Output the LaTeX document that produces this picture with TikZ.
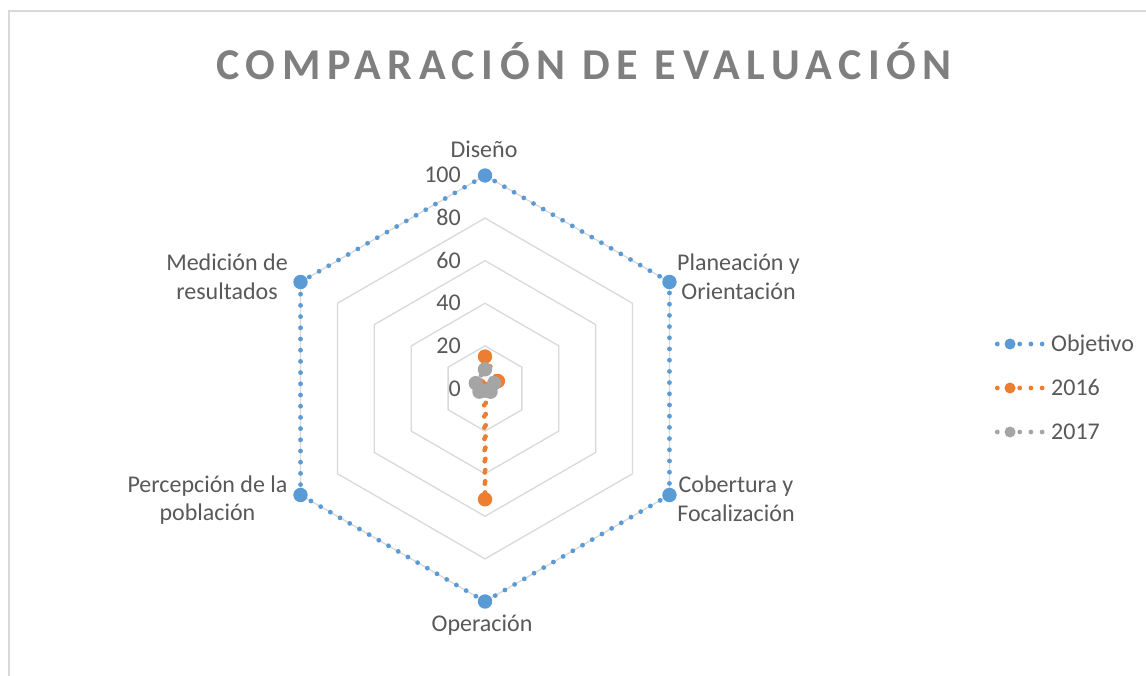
\documentclass[tikz,border=0pt]{standalone}
\usepackage{fontspec}
\setmainfont{Carlito}
\newfontfamily\titlefont[LetterSpace=15.2]{Carlito}
\definecolor{ringgray}{HTML}{D9D9D9}
\definecolor{txtgray}{HTML}{595959}
\definecolor{titlegray}{HTML}{7F7F7F}
\definecolor{cblue}{HTML}{5B9BD5}
\definecolor{corange}{HTML}{ED7D31}
\definecolor{cgray}{HTML}{A5A5A5}
\tikzset{
  ring/.style={draw=ringgray, line width=1.3pt, line join=miter},
  dotline/.style={line width=4.8pt, line cap=round, dash pattern=on 0pt off 11.2pt},
  lbl/.style={text=txtgray, font=\fontsize{24}{28.5}\selectfont, inner sep=0pt, align=center},
  axlbl/.style={text=txtgray, font=\fontsize{24}{28.5}\selectfont, inner sep=0pt, anchor=base east},
  leglbl/.style={text=txtgray, font=\fontsize{24}{28.5}\selectfont, inner sep=0pt, anchor=base west},
}
\begin{document}
\begin{tikzpicture}[x=1pt,y=-1pt]
\useasboundingbox (0,0) rectangle (1146,676);
\fill[white] (0,0) rectangle (1146,676);
\draw[ringgray, line width=1.2pt] (9,676) -- (9,11) -- (1146,11);
% title
\node[text=titlegray, font=\titlefont\bfseries\fontsize{44}{50}\selectfont, inner sep=0pt] (title) at (584,61) {COMPARACIÓN DE EVALUACIÓN};
% rings
\begin{scope}[shift={(485,388.5)}]
\foreach \v in {20,40,60,80,100}{
  \draw[ring] (0,{-2.13*\v}) -- ({2.13*\v*sin(60)},{-2.13*\v*cos(60)}) -- ({2.13*\v*sin(120)},{-2.13*\v*cos(120)})
   -- (0,{2.13*\v}) -- ({2.13*\v*sin(240)},{-2.13*\v*cos(240)}) -- ({2.13*\v*sin(300)},{-2.13*\v*cos(300)}) -- cycle;
}
% series coordinates
\foreach \k/\v in {0/100,1/100,2/100,3/100,4/100,5/100}
  \coordinate (obj\k) at ({2.13*\v*sin(60*\k)},{-2.13*\v*cos(60*\k)});
\foreach \k/\v in {0/15,1/7,2/0.5,3/52,4/0.5,5/3}
  \coordinate (a\k) at ({2.13*\v*sin(60*\k)},{-2.13*\v*cos(60*\k)});
\foreach \k/\v in {0/9,1/5,2/3,3/1,4/3,5/5}
  \coordinate (b\k) at ({2.13*\v*sin(60*\k)},{-2.13*\v*cos(60*\k)});
\end{scope}
% Objetivo
\draw[dotline, cblue] (obj0) -- (obj1) -- (obj2) -- (obj3) -- (obj4) -- (obj5) -- cycle;
\foreach \k in {0,...,5} \fill[cblue] (obj\k) circle (7.2pt);
% 2016
\draw[dotline, corange] (a0) -- (a1) -- (a2) -- (a3) -- (a4) -- (a5) -- cycle;
\foreach \k in {0,...,5} \fill[corange] (a\k) circle (7.2pt);
% 2017
\draw[dotline, cgray] (b0) -- (b1) -- (b2) -- (b3) -- (b4) -- (b5) -- cycle;
\foreach \k in {0,...,5} \fill[cgray] (b\k) circle (7.2pt);
% axis labels
\foreach \v in {0,20,40,60,80,100}
  \node[axlbl] (ax\v) at (461,{388.5-2.13*\v+7.5}) {\v};
% category labels
\node[lbl, anchor=base] (cat0) at (484,157.7) {Diseño};
\node[lbl] (cat1) at (738.5,277) {Planeación y\\Orientación};
\node[lbl] (cat2) at (736,499) {Cobertura y\\Focalización};
\node[lbl, anchor=base] (cat3) at (482,631) {Operación};
\node[lbl] (cat4) at (207.5,500.2) {Percepción de la\\población};
\node[lbl] (cat5) at (227,277) {Medición de\\resultados};
% legend
\coordinate (l1a) at (997.3,344); \coordinate (l1b) at (1043,344); \coordinate (l1m) at (1010,344);
\coordinate (l2a) at (997.3,388); \coordinate (l2b) at (1043,388); \coordinate (l2m) at (1010,388);
\coordinate (l3a) at (997.3,432); \coordinate (l3b) at (1043,432); \coordinate (l3m) at (1010,432);
\draw[dotline, cblue] (l1a) -- (l1b); \fill[cblue] (l1m) circle (5.5pt);
\draw[dotline, corange] (l2a) -- (l2b); \fill[corange] (l2m) circle (5.5pt);
\draw[dotline, cgray] (l3a) -- (l3b); \fill[cgray] (l3m) circle (5.5pt);
\node[leglbl] (leg1) at (1051,351.5) {Objetivo};
\node[leglbl] (leg2) at (1051,395.5) {2016};
\node[leglbl] (leg3) at (1051,439.5) {2017};
\end{tikzpicture}
\end{document}
